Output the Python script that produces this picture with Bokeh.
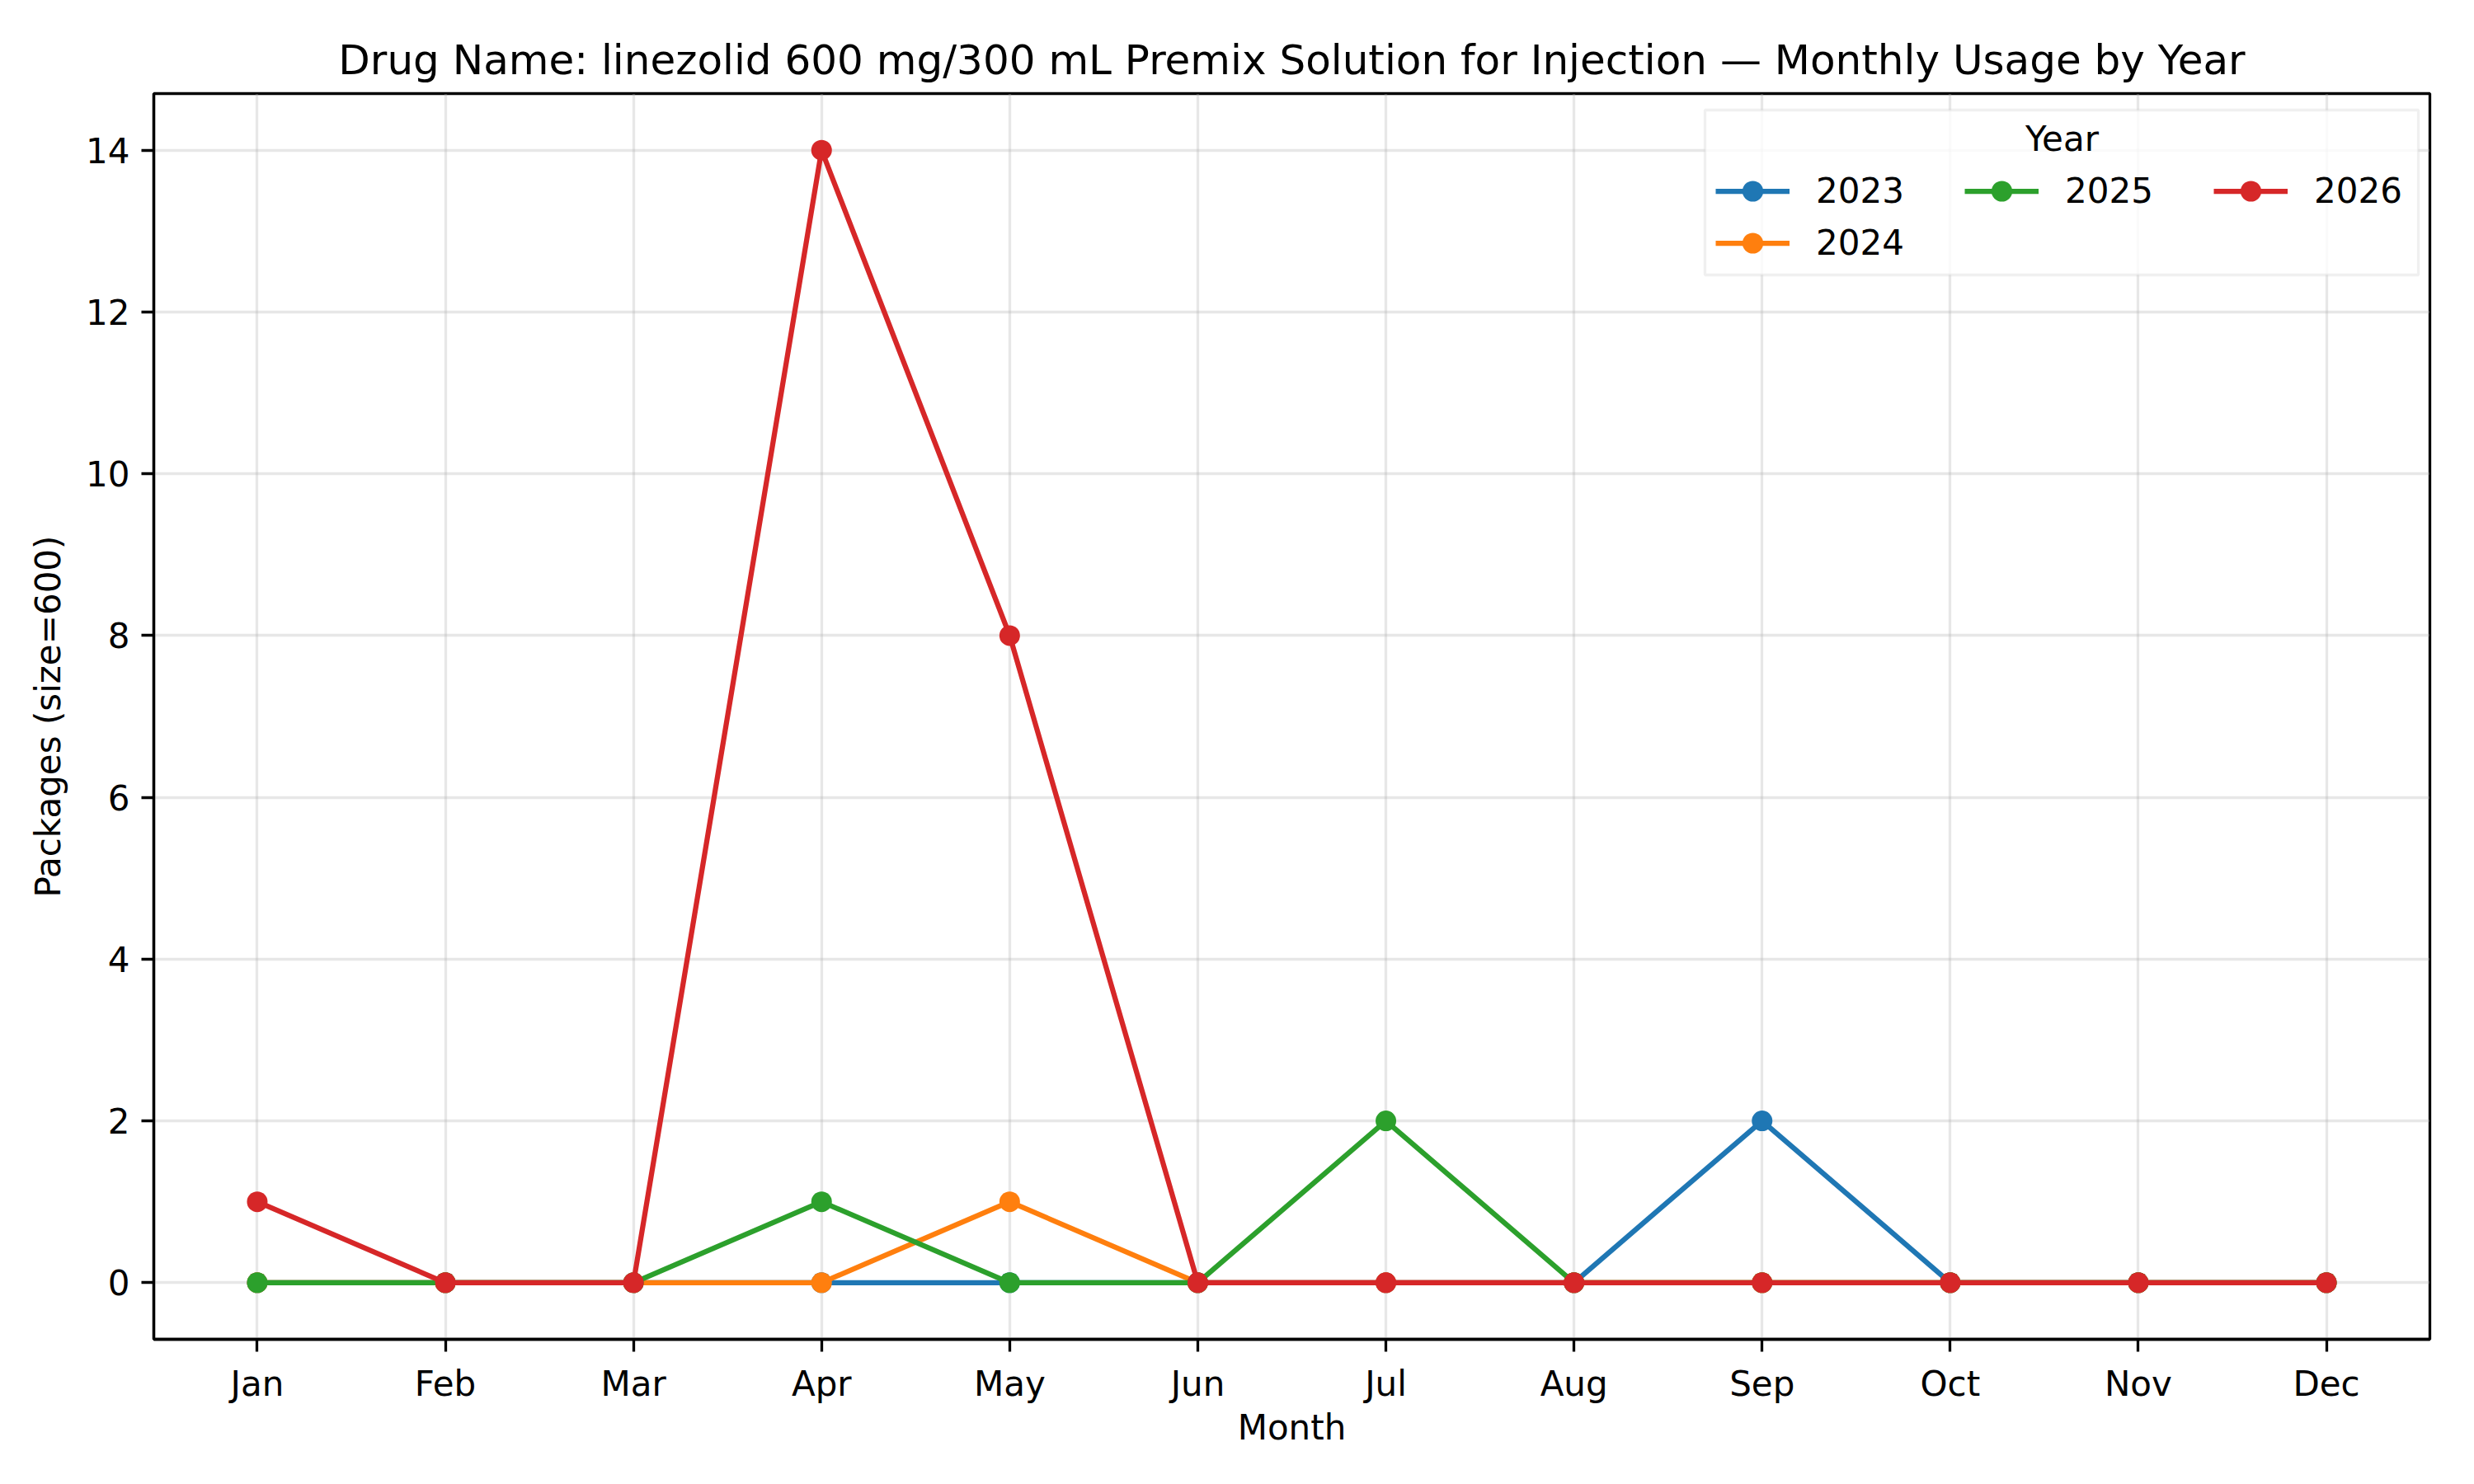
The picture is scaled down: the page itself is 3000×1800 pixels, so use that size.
from bokeh.plotting import figure
from bokeh.models import Range1d, FixedTicker, Legend, LegendItem, BoxAnnotation, Label
from bokeh.embed import file_html
from bokeh.resources import INLINE

months = ["Jan", "Feb", "Mar", "Apr", "May", "Jun", "Jul", "Aug", "Sep", "Oct", "Nov", "Dec"]
years = ["2023", "2024", "2025", "2026"]
usage_2023 = [0, 0, 0, 0, 0, 0, 0, 0, 2, 0, 0, 0]
usage_2024 = [0, 0, 0, 0, 1, 0, 0, 0, 0, 0, 0, 0]
usage_2025 = [0, 0, 0, 1, 0, 0, 2, 0, 0, 0, 0, 0]
usage_2026 = [1, 0, 0, 14, 8, 0, 0, 0, 0, 0, 0, 0]
series = [usage_2023, usage_2024, usage_2025, usage_2026]
colors = ["#1f77b4", "#ff7f0e", "#2ca02c", "#d62728"]
y_ticks = [0, 2, 4, 6, 8, 10, 12, 14]
title_text = "Drug Name: linezolid 600 mg/300 mL Premix Solution for Injection \u2014 Monthly Usage by Year"
x_label = "Month"
y_label = "Packages (size=600)"
legend_title = "Year"

FONT = "DejaVu Sans"
x = list(range(len(months)))
xspan = x[-1] - x[0]
ymax = max(max(s) for s in series)
ymin = min(min(s) for s in series)
yspan = ymax - ymin

# frame geometry (canvas pixels)
FL, FR, FT, FB = 186, 2946, 113, 1624

p = figure(width=3000, height=1800, output_backend="svg", toolbar_location=None,
           x_range=Range1d(x[0] - 0.05 * xspan, x[-1] + 0.05 * xspan),
           y_range=Range1d(ymin - 0.05 * yspan, ymax + 0.05 * yspan),
           min_border_left=FL, min_border_right=3000 - FR, min_border_top=FT,
           min_border_bottom=1800 - FB)

p.background_fill_color = "white"
p.border_fill_color = "white"
p.outline_line_color = "black"
p.outline_line_width = 3.3

p.title.text = title_text
p.title.text_font = FONT
p.title.text_font_size = "50px"
p.title.text_font_style = "normal"
p.title.text_color = "black"
p.title.align = "center"
p.title.standoff = 24

p.xaxis.ticker = FixedTicker(ticks=x)
p.xaxis.major_label_overrides = {i: m for i, m in zip(x, months)}
p.yaxis.ticker = FixedTicker(ticks=y_ticks)
for ax in (p.xaxis, p.yaxis):
    ax.major_label_text_font = FONT
    ax.major_label_text_font_size = "42px"
    ax.major_label_text_color = "black"
    ax.axis_label_text_font = FONT
    ax.axis_label_text_font_size = "42px"
    ax.axis_label_text_font_style = "normal"
    ax.axis_label_text_color = "black"
    ax.axis_line_width = 3.3
    ax.axis_line_color = "black"
    ax.major_tick_line_color = "black"
    ax.major_tick_line_width = 3.3
    ax.major_tick_out = 15
    ax.major_tick_in = 0
    ax.minor_tick_out = 0
    ax.minor_tick_in = 0
    ax.major_label_standoff = 14
p.xaxis.axis_label = x_label
p.yaxis.axis_label = y_label
p.xaxis.axis_label_standoff = 1
p.yaxis.axis_label_standoff = 18

for g in (p.xgrid, p.ygrid):
    g.grid_line_color = "#b0b0b0"
    g.grid_line_alpha = 0.3
    g.grid_line_width = 3.3

items = {}
for yr, vals, col in zip(years, series, colors):
    lr = p.line(x, vals, line_color=col, line_width=6.25)
    sr = p.scatter(x, vals, size=25, fill_color=col, line_color=col, line_width=0)
    items[yr] = LegendItem(label=yr, renderers=[lr, sr])

# legend frame (matplotlib-style box) drawn behind the legend entries
box = BoxAnnotation(left=2067 - FL, right=2932 - FL, top=FB - 133, bottom=FB - 333,
                    left_units="screen", right_units="screen",
                    top_units="screen", bottom_units="screen",
                    fill_color="white", fill_alpha=0.8,
                    line_color="#cccccc", line_width=3.3)
p.add_layout(box)

title_lbl = Label(x=2500 - FL, y=FB - 168, x_units="screen", y_units="screen",
                  text=legend_title, text_align="center", text_baseline="middle",
                  text_font=FONT, text_font_size="42px", text_color="black")
p.add_layout(title_lbl)

legend = Legend(items=[items["2023"], items["2025"], items["2026"], items["2024"]],
                orientation="horizontal", ncols=3,
                location=(2080 - FL, FB - 326),
                label_text_font=FONT, label_text_font_size="42px", label_text_color="black",
                glyph_width=90, glyph_height=63, label_standoff=32, label_width=180,
                spacing=0, padding=0, margin=0,
                border_line_alpha=0, background_fill_alpha=0)
p.add_layout(legend)

open("out.html", "w").write(file_html(p, INLINE))
